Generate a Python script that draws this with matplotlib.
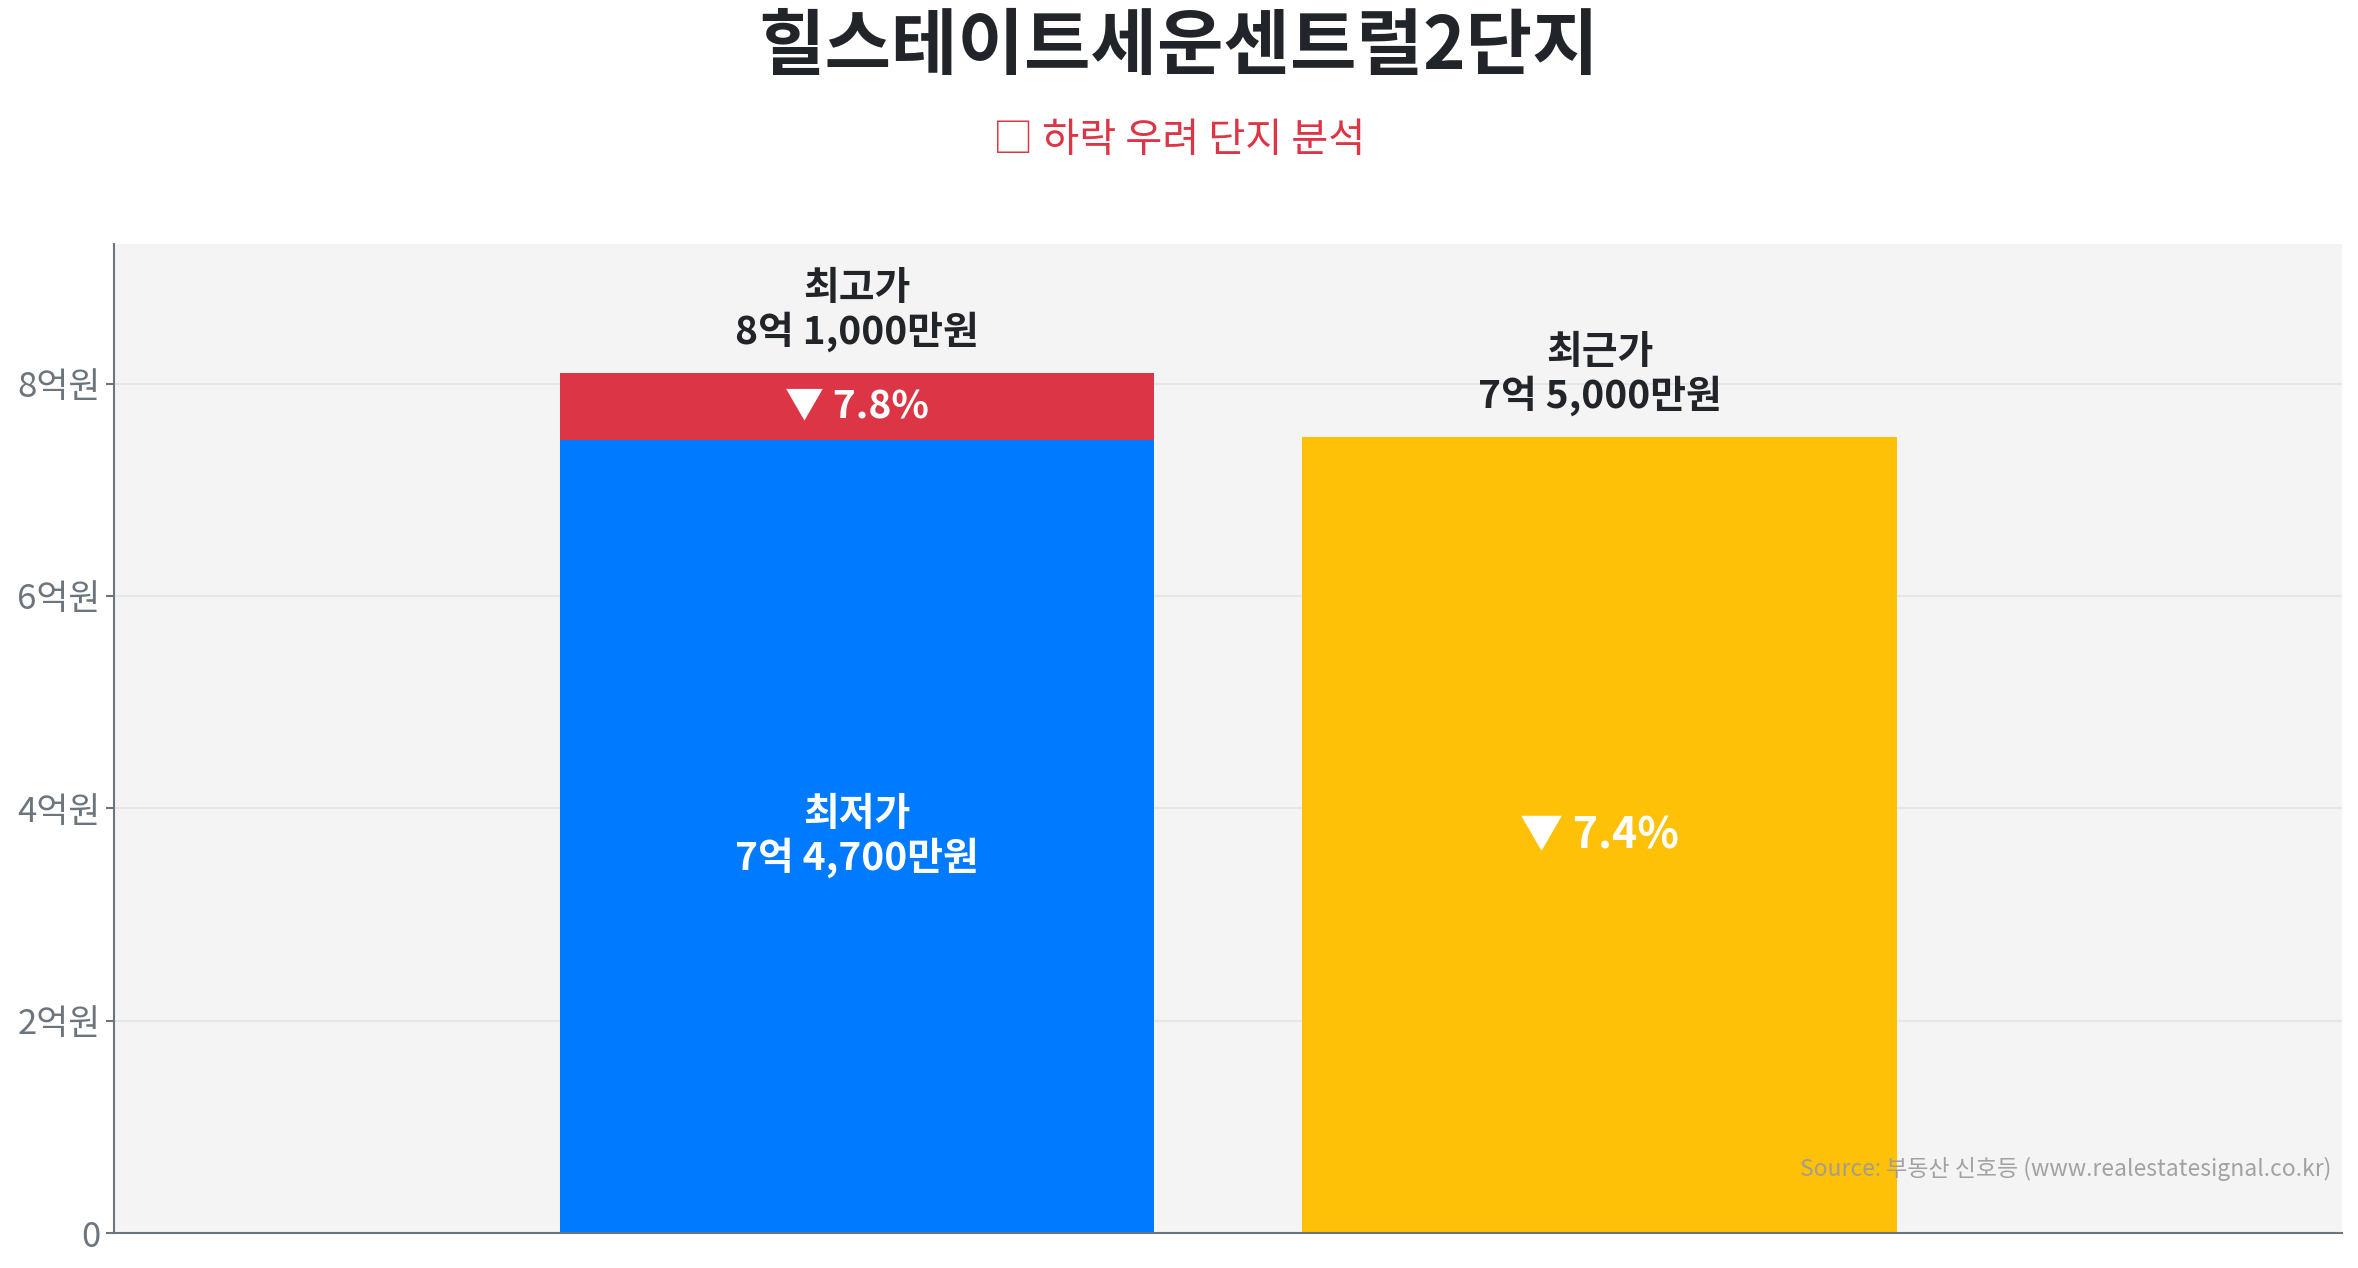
import matplotlib
matplotlib.use('Agg')
import matplotlib.pyplot as plt

plt.rcParams['font.family'] = ['Noto Sans CJK KR', 'DejaVu Sans']

# data (in 만원)
title = '힐스테이트세운센트럴2단지'
subtitle = '□ 하락 우려 단지 분석'
categories = ['최고가/최저가', '최근가']
high_price = 81000
low_price = 74700
recent_price = 75000
y_ticks = [0, 2, 4, 6, 8]
y_tick_labels = ['0', '2억원', '4억원', '6억원', '8억원']
source = 'Source: 부동산 신호등 (www.realestatesignal.co.kr)'


def won(v):
    return f'{v // 10000}억 {v % 10000:,}만원'


dark = '#212529'
fig = plt.figure(figsize=(23.58, 12.68), dpi=100)
ax = fig.add_axes([0.0483, 0.0276, 0.945, 0.780])
ax.set_facecolor('#f4f4f4')

high = high_price / 10000
low = low_price / 10000
recent = recent_price / 10000
x = [0, 1]

ax.bar(x[0], low, width=0.8, color='#007bff', zorder=2)
ax.bar(x[0], high - low, bottom=low, width=0.8, color='#dc3545', zorder=2)
ax.bar(x[1], recent, width=0.8, color='#ffc107', zorder=2)

drop_high = (high_price - low_price) / high_price * 100
drop_recent = (high_price - recent_price) / high_price * 100

ax.text(x[0], low / 2, '최저가\n' + won(low_price), ha='center', va='center',
        color='white', fontsize=28, fontweight='bold', linespacing=1.1, zorder=3)
ax.text(x[0], (low + high) / 2, f'▼ {drop_high:.1f}%', ha='center', va='center',
        color='white', fontsize=28, fontweight='bold', zorder=3)
ax.text(x[1], recent / 2, f'▼ {drop_recent:.1f}%', ha='center', va='center',
        color='white', fontsize=31, fontweight='bold', zorder=3)
ax.annotate('최고가\n' + won(high_price), (x[0], high), xytext=(0, 15),
            textcoords='offset points', ha='center', va='bottom', color=dark,
            fontsize=28, fontweight='bold', linespacing=1.1)
ax.annotate('최근가\n' + won(recent_price), (x[1], recent), xytext=(0, 15),
            textcoords='offset points', ha='center', va='bottom', color=dark,
            fontsize=28, fontweight='bold', linespacing=1.1)

ax.set_xlim(-1, 2)
ax.set_ylim(0, high * 1.15)
ax.set_xticks([])
ax.set_yticks(y_ticks)
ax.set_yticklabels(y_tick_labels)
ax.tick_params(axis='y', colors='#6c757d', labelsize=25, length=6, width=1.5)
ax.grid(axis='y', color='#e6e6e6', linewidth=1.5, zorder=0)
ax.set_axisbelow(True)
for s in ['top', 'right']:
    ax.spines[s].set_visible(False)
for s in ['left', 'bottom']:
    ax.spines[s].set_color('#6c757d')
    ax.spines[s].set_linewidth(1.5)

ax.text(0.995, 0.065, source, transform=ax.transAxes, ha='right', va='center',
        fontsize=16.5, color='#999999', alpha=0.9, zorder=4)

fig.text(0.5, 0.962, title, ha='center', va='center', fontsize=52,
         fontweight='bold', color=dark)
fig.text(0.5, 0.889, subtitle, ha='center', va='center', fontsize=29,
         color='#dc3545')

fig.savefig('out.png', dpi=100)
